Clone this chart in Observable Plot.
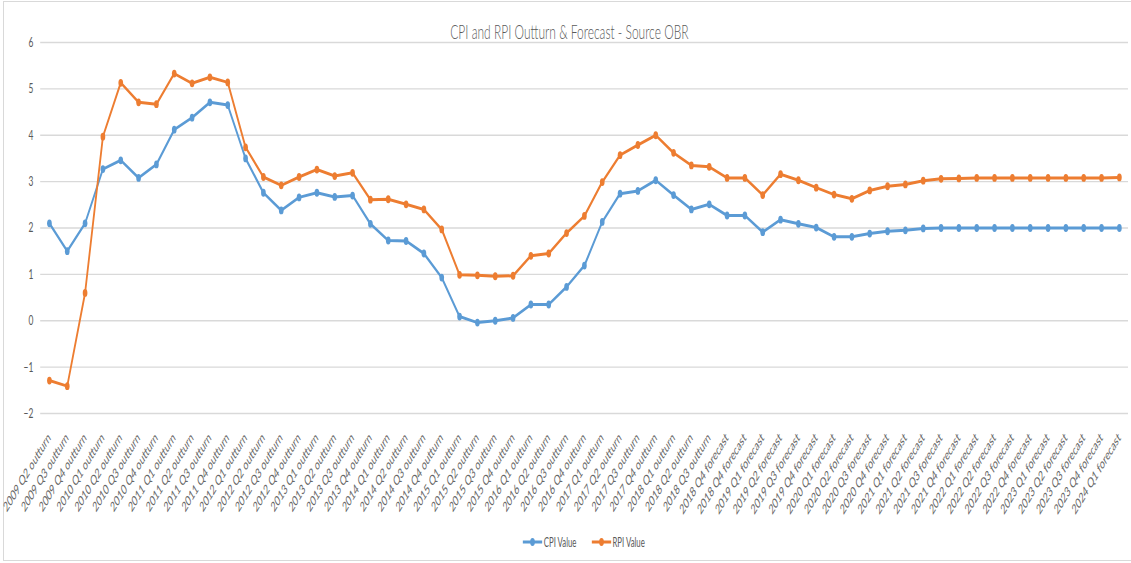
<!DOCTYPE html>
<html>
<head>
<meta charset="utf-8">
<script src="https://cdn.jsdelivr.net/npm/d3@7"></script>
<script src="https://cdn.jsdelivr.net/npm/@observablehq/plot@0.6"></script>
<style>
  html, body { margin: 0; padding: 0; background: #fff; overflow: hidden; width: 1131px; height: 563px; }
  #frame { position: absolute; left: 3px; top: 1px; width: 1140px; height: 560px; border: 1px solid #d9d9d9; box-sizing: border-box; }
  #stage { position: absolute; left: 0; top: 0; width: 1885px; height: 563px; transform: scaleX(0.6); transform-origin: 0 0; font-family: Lato, "Open Sans", sans-serif; color: #595959; }
  #title { position: absolute; top: 19px; left: 0; width: 1898px; text-align: center; font-size: 20px; font-weight: 300; color: #595959; white-space: nowrap; }
  #chart { position: absolute; left: 0; top: 0; }
  #legend { position: absolute; top: 534px; left: 0; width: 1946px; display: flex; justify-content: center; gap: 25px; font-size: 13px; color: #595959; }
  .item { display: flex; align-items: center; gap: 2px; }
</style>
</head>
<body>
<div id="frame"></div>
<div id="stage">
  <div id="title">CPI and RPI Outturn &amp; Forecast - Source OBR</div>
  <div id="chart"></div>
  <div id="legend"></div>
</div>
<script>
const quarters = [
  "2009 Q2 outturn","2009 Q3 outturn","2009 Q4 outturn",
  "2010 Q1 outturn","2010 Q2 outturn","2010 Q3 outturn","2010 Q4 outturn",
  "2011 Q1 outturn","2011 Q2 outturn","2011 Q3 outturn","2011 Q4 outturn",
  "2012 Q1 outturn","2012 Q2 outturn","2012 Q3 outturn","2012 Q4 outturn",
  "2013 Q1 outturn","2013 Q2 outturn","2013 Q3 outturn","2013 Q4 outturn",
  "2014 Q1 outturn","2014 Q2 outturn","2014 Q3 outturn","2014 Q4 outturn",
  "2015 Q1 outturn","2015 Q2 outturn","2015 Q3 outturn","2015 Q4 outturn",
  "2016 Q1 outturn","2016 Q2 outturn","2016 Q3 outturn","2016 Q4 outturn",
  "2017 Q1 outturn","2017 Q2 outturn","2017 Q3 outturn","2017 Q4 outturn",
  "2018 Q1 outturn","2018 Q2 outturn","2018 Q3 outturn",
  "2018 Q4 forecast","2018 Q4 forecast",
  "2019 Q1 forecast","2019 Q2 forecast","2019 Q3 forecast","2019 Q4 forecast",
  "2020 Q1 forecast","2020 Q2 forecast","2020 Q3 forecast","2020 Q4 forecast",
  "2021 Q1 forecast","2021 Q2 forecast","2021 Q3 forecast","2021 Q4 forecast",
  "2022 Q1 forecast","2022 Q2 forecast","2022 Q3 forecast","2022 Q4 forecast",
  "2023 Q1 forecast","2023 Q2 forecast","2023 Q3 forecast","2023 Q4 forecast",
  "2024 Q1 forecast"
];

const cpiValues = [
  2.1, 1.5, 2.1, 3.27, 3.46, 3.08, 3.37, 4.12, 4.38, 4.71,
  4.65, 3.5, 2.76, 2.38, 2.66, 2.76, 2.67, 2.7, 2.09, 1.73,
  1.72, 1.45, 0.93, 0.09, -0.04, 0, 0.06, 0.35, 0.35, 0.73,
  1.19, 2.13, 2.74, 2.8, 3.03, 2.71, 2.4, 2.51, 2.27, 2.27,
  1.91, 2.18, 2.09, 2.01, 1.81, 1.81, 1.88, 1.93, 1.95, 1.99,
  2, 2, 2, 2, 2, 2, 2, 2, 2, 2, 2
];

const rpiValues = [
  -1.29, -1.41, 0.6, 3.97, 5.13, 4.71, 4.67, 5.33, 5.12, 5.25,
  5.14, 3.74, 3.1, 2.92, 3.1, 3.26, 3.12, 3.19, 2.61, 2.62,
  2.51, 2.4, 1.97, 0.99, 0.98, 0.96, 0.97, 1.4, 1.45, 1.89,
  2.26, 2.99, 3.57, 3.79, 4.0, 3.62, 3.35, 3.32, 3.08, 3.08,
  2.71, 3.16, 3.03, 2.87, 2.72, 2.63, 2.81, 2.9, 2.94, 3.02,
  3.06, 3.07, 3.08, 3.08, 3.08, 3.08, 3.08, 3.08, 3.08, 3.08, 3.09
];

const yTicks = [-2, -1, 0, 1, 2, 3, 4, 5, 6];
const seriesNames = ["CPI Value", "RPI Value"];
const seriesColors = ["#5B9BD5", "#ED7D31"];

const idx = quarters.map((_, i) => i);
const cpiData = cpiValues.map((v, i) => ({i, v}));
const rpiData = rpiValues.map((v, i) => ({i, v}));

const chart = Plot.plot({
  width: 1885,
  height: 530,
  marginLeft: 67,
  marginRight: 5,
  marginTop: 42,
  marginBottom: 117,
  style: {background: "transparent", color: "#595959", fontFamily: "Lato, 'Open Sans', sans-serif"},
  x: {type: "point", domain: idx, padding: 0.5},
  y: {domain: [-2, 6]},
  marks: [
    Plot.ruleY(yTicks, {stroke: "#d9d9d9", strokeWidth: 1.4}),
    Plot.axisY({ticks: yTicks, tickSize: 0, tickPadding: 12, fontSize: 14, label: null}),
    Plot.axisX({ticks: idx, tickFormat: i => quarters[i], tickRotate: -45, tickSize: 0, tickPadding: 22, fontSize: 14, fill: "#666", label: null}),
    Plot.line(cpiData, {x: "i", y: "v", stroke: seriesColors[0], strokeWidth: 3}),
    Plot.dot(cpiData, {x: "i", y: "v", r: 3.9, fill: seriesColors[0]}),
    Plot.line(rpiData, {x: "i", y: "v", stroke: seriesColors[1], strokeWidth: 3}),
    Plot.dot(rpiData, {x: "i", y: "v", r: 3.9, fill: seriesColors[1]})
  ]
});
document.getElementById("chart").appendChild(chart);

const legend = document.getElementById("legend");
seriesNames.forEach((name, k) => {
  const item = document.createElement("div");
  item.className = "item";
  item.innerHTML = `<svg width="33" height="14"><line x1="0" y1="7" x2="33" y2="7" stroke="${seriesColors[k]}" stroke-width="3"/><circle cx="16.5" cy="7" r="3.9" fill="${seriesColors[k]}"/></svg><span>${name}</span>`;
  legend.appendChild(item);
});
</script>
</body>
</html>
